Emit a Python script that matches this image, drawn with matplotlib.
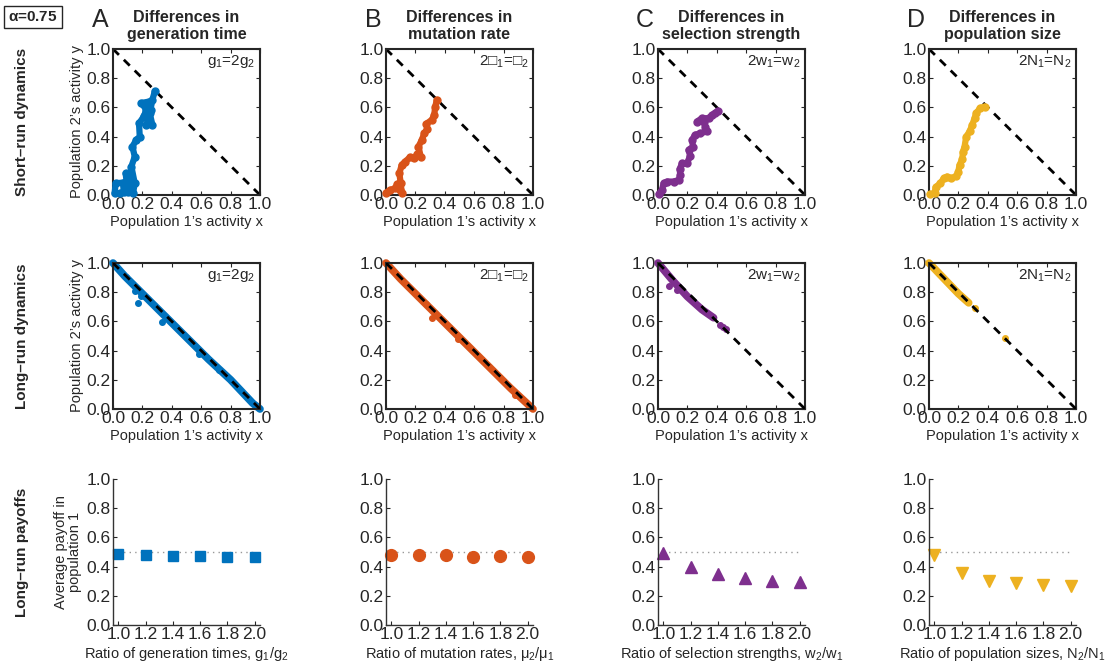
import matplotlib
matplotlib.use('agg')
import matplotlib.pyplot as plt
import numpy as np

plt.rcParams['font.family'] = ['Liberation Sans', 'DejaVu Sans']
plt.rcParams['mathtext.fontset'] = 'custom'
plt.rcParams['mathtext.rm'] = 'Liberation Sans'
plt.rcParams['mathtext.default'] = 'regular'

# colours of the four columns
colors = ['#0072BD', '#D95319', '#7E2F8E', '#EDB120']
letters = ['A', 'B', 'C', 'D']
titles = ['Differences in\ngeneration time', 'Differences in\nmutation rate',
          'Differences in\nselection strength', 'Differences in\npopulation size']
annots = ['g$_1$=2g$_2$', '2\u25a1$_1$=\u25a1$_2$', '2w$_1$=w$_2$', '2N$_1$=N$_2$']
ratio_labels = ['Ratio of generation times, g$_1$/g$_2$',
                'Ratio of mutation rates, \u03bc$_2$/\u03bc$_1$',
                'Ratio of selection strengths, w$_2$/w$_1$',
                'Ratio of population sizes, N$_2$/N$_1$']

# short-run trajectories (x, y)
sr_a_x = [0.011, 0.018, 0.068, 0.073, 0.045, 0.10, 0.086, 0.118, 0.136, 0.148, 0.125, 0.148, 0.132,
          0.159, 0.182, 0.177, 0.209, 0.227, 0.193, 0.245, 0.261, 0.227, 0.268, 0.25, 0.268, 0.284]
sr_a_y = [0.011, 0.08, 0.085, 0.023, 0.011, 0.023, 0.149, 0.09, 0.011, 0.08, 0.195, 0.263, 0.332,
          0.378, 0.40, 0.49, 0.538, 0.584, 0.63, 0.64, 0.584, 0.48, 0.48, 0.56, 0.652, 0.709]
sr_b_x = [0.0, 0.027, 0.062, 0.077, 0.096, 0.107, 0.10, 0.091, 0.107, 0.13, 0.164, 0.191, 0.214,
          0.237, 0.221, 0.244, 0.26, 0.282, 0.273, 0.312, 0.328, 0.335, 0.346]
sr_b_y = [0.016, 0.034, 0.046, 0.076, 0.034, 0.016, 0.08, 0.149, 0.206, 0.229, 0.259, 0.252, 0.281,
          0.259, 0.332, 0.378, 0.423, 0.451, 0.487, 0.515, 0.549, 0.606, 0.652]
sr_c_x = [0.005, 0.027, 0.038, 0.061, 0.106, 0.14, 0.152, 0.147, 0.163, 0.197, 0.219, 0.208, 0.238,
          0.231, 0.253, 0.287, 0.333, 0.321, 0.31, 0.265, 0.299, 0.344, 0.367, 0.389, 0.405]
sr_c_y = [0.007, 0.034, 0.08, 0.092, 0.092, 0.103, 0.137, 0.176, 0.217, 0.217, 0.268, 0.309, 0.332,
          0.378, 0.412, 0.423, 0.435, 0.469, 0.503, 0.503, 0.526, 0.526, 0.549, 0.561, 0.577]
sr_d_x = [0.005, 0.038, 0.045, 0.077, 0.10, 0.122, 0.152, 0.186, 0.199, 0.208, 0.226, 0.231, 0.242,
          0.253, 0.276, 0.294, 0.31, 0.321, 0.348, 0.378]
sr_d_y = [0.007, 0.011, 0.053, 0.08, 0.114, 0.126, 0.114, 0.13, 0.16, 0.206, 0.245, 0.297, 0.332,
          0.40, 0.435, 0.48, 0.526, 0.561, 0.595, 0.606]

# long-run clouds: main band + stray points
lr_a_x = [0.0, 0.08, 0.2, 0.35, 0.5, 0.65, 0.8, 0.95, 1.0]
lr_a_y = [1.0, 0.91, 0.79, 0.64, 0.49, 0.34, 0.2, 0.04, 0.0]
lr_a_ox = [0.086, 0.148, 0.17, 0.193, 0.334, 0.586, 0.72]
lr_a_oy = [0.905, 0.807, 0.723, 0.773, 0.595, 0.38, 0.27]
lr_b_x = [0.0, 0.1, 0.25, 0.4, 0.55, 0.7, 0.85, 1.0]
lr_b_y = [1.0, 0.89, 0.74, 0.59, 0.44, 0.29, 0.14, 0.0]
lr_b_ox = [0.27, 0.316, 0.489, 0.88]
lr_b_oy = [0.716, 0.625, 0.482, 0.095]
lr_c_x = [0.0, 0.1, 0.2, 0.3, 0.378]
lr_c_y = [1.0, 0.88, 0.77, 0.68, 0.625]
lr_c_ox = [0.075, 0.129, 0.419, 0.439, 0.462]
lr_c_oy = [0.845, 0.818, 0.573, 0.564, 0.545]
lr_d_x = [0.0, 0.1, 0.2, 0.27]
lr_d_y = [1.0, 0.895, 0.79, 0.727]
lr_d_ox = [0.31, 0.518]
lr_d_oy = [0.689, 0.484]

# long-run payoffs
ratios = [1.0, 1.2, 1.4, 1.6, 1.8, 2.0]
pay_a = [0.485, 0.478, 0.472, 0.472, 0.465, 0.466]
pay_b = [0.481, 0.481, 0.478, 0.469, 0.472, 0.465]
pay_c = [0.49, 0.40, 0.346, 0.319, 0.303, 0.296]
pay_d = [0.48, 0.358, 0.303, 0.285, 0.276, 0.269]

short_run = [(sr_a_x, sr_a_y), (sr_b_x, sr_b_y), (sr_c_x, sr_c_y), (sr_d_x, sr_d_y)]
long_run = [(lr_a_x, lr_a_y, lr_a_ox, lr_a_oy), (lr_b_x, lr_b_y, lr_b_ox, lr_b_oy),
            (lr_c_x, lr_c_y, lr_c_ox, lr_c_oy), (lr_d_x, lr_d_y, lr_d_ox, lr_d_oy)]
payoffs = [pay_a, pay_b, pay_c, pay_d]
markers = ['s', 'o', '^', 'v']
msizes = [7.5, 8.5, 9, 9]

W, H = 1110, 672
fig = plt.figure(figsize=(W / 100, H / 100), dpi=100)
lefts = [113, 386, 658, 929]
tops = [49, 263, 479]
aw, ah = 147, 146
tc = '#262626'
tick_fs = 12.5


def mk_ax(col, row):
    return fig.add_axes([lefts[col] / W, 1 - (tops[row] + ah) / H, aw / W, ah / H])


def style_box(ax):
    ax.set_xlim(0, 1)
    ax.set_ylim(0, 1)
    ax.set_xticks(np.arange(0, 1.01, 0.2))
    ax.set_yticks(np.arange(0, 1.01, 0.2))
    ax.xaxis.set_major_formatter(matplotlib.ticker.FormatStrFormatter('%.1f'))
    ax.yaxis.set_major_formatter(matplotlib.ticker.FormatStrFormatter('%.1f'))
    ax.tick_params(direction='in', top=True, right=True, length=3, width=0.8,
                   labelsize=tick_fs, pad=1.5, colors=tc)
    for s in ax.spines.values():
        s.set_linewidth(1.5)
        s.set_color(tc)


for i in range(4):
    c = colors[i]
    # row 1: short-run
    ax = mk_ax(i, 0)
    style_box(ax)
    ax.plot([0, 1], [1, 0], color='black', lw=2, ls=(0, (3, 2.5)), zorder=2)
    sx, sy = short_run[i]
    ax.plot(sx, sy, color=c, lw=4.5, marker='o', ms=5, solid_joinstyle='round',
            solid_capstyle='round', zorder=3, clip_on=False)
    ax.text(0.97, 0.97, annots[i], transform=ax.transAxes, ha='right', va='top',
            fontsize=11, color=tc)
    ax.set_xlabel('Population 1\u2019s activity x', fontsize=10.5, color=tc, labelpad=2)
    if i == 0:
        ax.set_ylabel('Population 2\u2019s activity y', fontsize=10.5, color=tc, labelpad=2)
    ax.set_title(titles[i], fontsize=11.5, fontweight='bold', color=tc, pad=7,
                 linespacing=1.15)
    fig.text((lefts[i] - 13) / W, 1 - 20 / H, letters[i], fontsize=18, ha='center',
             va='center', color=tc)

    # row 2: long-run
    ax = mk_ax(i, 1)
    style_box(ax)
    lx, ly, ox, oy = long_run[i]
    ax.plot(lx, ly, color=c, lw=5.5, solid_capstyle='round', zorder=2, clip_on=False)
    ax.plot(ox, oy, 'o', color=c, ms=4, zorder=2)
    ax.plot([0, 1], [1, 0], color='black', lw=2, ls=(0, (3, 2.5)), zorder=3)
    ax.text(0.97, 0.97, annots[i], transform=ax.transAxes, ha='right', va='top',
            fontsize=11, color=tc)
    ax.set_xlabel('Population 1\u2019s activity x', fontsize=10.5, color=tc, labelpad=2)
    if i == 0:
        ax.set_ylabel('Population 2\u2019s activity y', fontsize=10.5, color=tc, labelpad=2)

    # row 3: payoffs
    ax = mk_ax(i, 2)
    ax.set_xlim(0.96, 2.04)
    ax.set_ylim(0, 1)
    ax.plot([ratios[0], ratios[-1]], [0.5, 0.5], color='#999999', lw=1, ls=(0, (1, 3)))
    ax.plot(ratios, payoffs[i], ls='none', marker=markers[i], ms=msizes[i], color=c,
            markeredgecolor=c, clip_on=False)
    ax.set_xticks(ratios)
    ax.set_yticks(np.arange(0, 1.01, 0.2))
    ax.xaxis.set_major_formatter(matplotlib.ticker.FormatStrFormatter('%.1f'))
    ax.yaxis.set_major_formatter(matplotlib.ticker.FormatStrFormatter('%.1f'))
    ax.spines['top'].set_visible(False)
    ax.spines['right'].set_visible(False)
    for s in ['left', 'bottom']:
        ax.spines[s].set_linewidth(1)
        ax.spines[s].set_color('#333333')
    ax.tick_params(direction='in', length=3, width=0.8, labelsize=tick_fs, pad=1.5, colors=tc)
    ax.set_xlabel(ratio_labels[i], fontsize=10.5, color=tc, labelpad=2)
    if i == 0:
        ax.set_ylabel('Average payoff in\npopulation 1', fontsize=10.5, color=tc,
                      labelpad=3, linespacing=1.0)

# row labels
row_names = ['Short\u2013run dynamics', 'Long\u2013run dynamics', 'Long\u2013run payoffs']
for r, name in enumerate(row_names):
    fig.text(22 / W, 1 - (tops[r] + ah / 2) / H, name, rotation=90, fontsize=11,
             fontweight='bold', ha='center', va='center', color=tc)

fig.text(33 / W, 1 - 17 / H, r'$\alpha$=0.75', fontsize=11, fontweight='bold',
         ha='center', va='center', color=tc,
         bbox=dict(boxstyle='square,pad=0.25', fc='white', ec=tc, lw=1))

fig.savefig('out.png', dpi=100)
